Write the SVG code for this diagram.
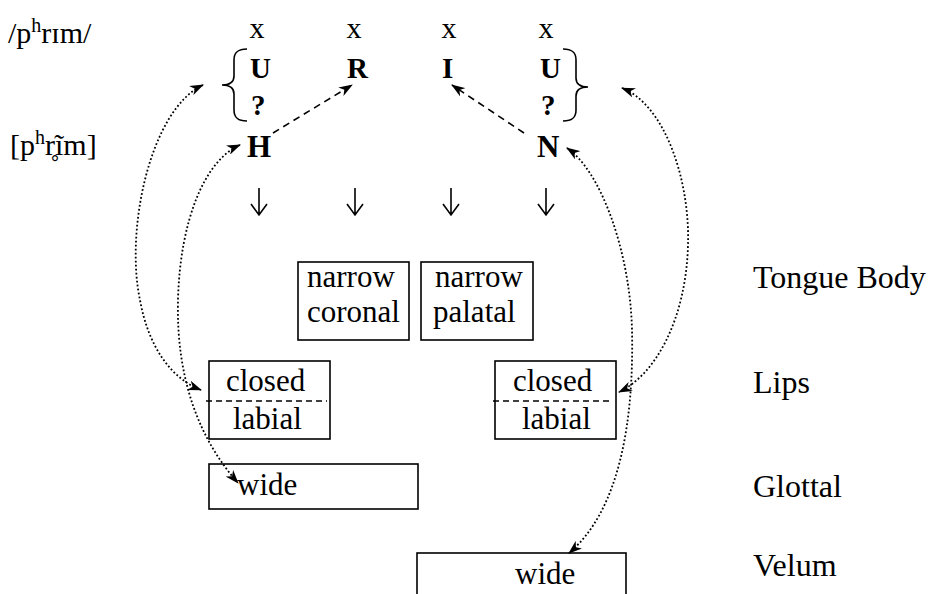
<svg xmlns="http://www.w3.org/2000/svg" width="928" height="594" viewBox="0 0 928 594">
  <style>
    text { font-family: "Liberation Serif", serif; fill: #000; }
    .t { font-size: 31px; }
    .lab { font-size: 32px; }
    .sk { font-size: 30px; }
    .b { font-size: 29px; font-weight: bold; }
    .bb { font-size: 31px; font-weight: bold; }
    .box { fill: none; stroke: #000; stroke-width: 1.6; }
    .split { stroke: #000; stroke-width: 1.6; stroke-dasharray: 6 4; fill: none; }
    .brace { fill: none; stroke: #000; stroke-width: 1.6; }
    .dash { fill: none; stroke: #000; stroke-width: 1.6; stroke-dasharray: 7 5; marker-end: url(#head); }
    .dot { fill: none; stroke: #000; stroke-width: 1.8; stroke-dasharray: 1.8 2.2; marker-start: url(#head); marker-end: url(#head); }
    .down { fill: none; stroke: #000; stroke-width: 1.6; }
  </style>
  <defs>
    <marker id="head" viewBox="0 0 14 10" refX="13" refY="5" markerWidth="14" markerHeight="10" markerUnits="userSpaceOnUse" orient="auto-start-reverse">
      <path d="M0,0 L14,5 L0,10 L4,5 Z" fill="#000"/>
    </marker>
  </defs>

  <!-- transcriptions -->
  <g id="phonemic">
    <text class="sk" x="8" y="43">/p<tspan font-size="20" dy="-11">h</tspan><tspan dy="11">rɪm/</tspan></text>
  </g>
  <g id="phonetic">
    <text class="sk" x="10" y="155">[p<tspan font-size="20" dy="-11">h</tspan><tspan dy="11">r̥ĩm]</tspan></text>
  </g>

  <!-- skeletal slots -->
  <g id="slots">
    <text class="sk" x="257" y="38" text-anchor="middle">x</text>
    <text class="sk" x="354" y="38" text-anchor="middle">x</text>
    <text class="sk" x="449" y="38" text-anchor="middle">x</text>
    <text class="sk" x="546" y="38" text-anchor="middle">x</text>
  </g>

  <!-- elements -->
  <g id="elem-U1"><text class="b" x="250" y="78">U</text><text class="b" x="251" y="115">?</text></g>
  <g id="elem-R"><text class="b" x="347" y="78">R</text></g>
  <g id="elem-I"><text class="b" x="442" y="78">I</text></g>
  <g id="elem-U2"><text class="b" x="540" y="78">U</text><text class="b" x="541" y="115">?</text></g>
  <g id="elem-H"><text class="bb" x="247" y="157">H</text></g>
  <g id="elem-N"><text class="bb" x="537" y="157">N</text></g>

  <g id="braces">
    <path class="brace" d="M247,49 C237,49 234,53 234,60 L234,76 C234,82 230,85 222,85 C230,85 234,88 234,94 L234,110 C234,117 237,121 247,121"/>
    <path class="brace" d="M563,49 C573,49 576,53 576,60 L576,78 C576,84 580,87 588,87 C580,87 576,90 576,96 L576,110 C576,117 573,121 563,121"/>
  </g>

  <!-- articulator boxes -->
  <g id="tb-coronal">
    <rect class="box" x="298" y="262" width="111" height="78"/>
    <text class="t" x="307" y="287">narrow</text>
    <text class="t" x="307" y="322">coronal</text>
  </g>
  <g id="tb-palatal">
    <rect class="box" x="421" y="262" width="112" height="78"/>
    <text class="t" x="435" y="287">narrow</text>
    <text class="t" x="433" y="322">palatal</text>
  </g>
  <g id="lips-left">
    <rect class="box" x="209" y="361" width="121" height="78"/>
    <line class="split" x1="206" y1="401" x2="327" y2="401"/>
    <text class="t" x="226" y="391">closed</text>
    <text class="t" x="233" y="429">labial</text>
  </g>
  <g id="lips-right">
    <rect class="box" x="495" y="361" width="121" height="78"/>
    <line class="split" x1="493" y1="401" x2="613" y2="401"/>
    <text class="t" x="513" y="391">closed</text>
    <text class="t" x="522" y="429">labial</text>
  </g>
  <g id="glottal">
    <rect class="box" x="209" y="464" width="209" height="45"/>
    <text class="t" x="237" y="495">wide</text>
  </g>
  <g id="velum">
    <rect class="box" x="417" y="553" width="209" height="60"/>
    <text class="t" x="515" y="584">wide</text>
  </g>

  <!-- tier labels -->
  <g id="tier-labels">
    <text class="lab" x="753" y="288">Tongue Body</text>
    <text class="lab" x="753" y="393">Lips</text>
    <text class="lab" x="753" y="497">Glottal</text>
    <text class="lab" x="753" y="576">Velum</text>
  </g>

  <!-- connectors -->
  <g id="connectors">
    <path class="down" d="M259,188 V215 M251,204 L259,215 L267,204"/>
    <path class="down" d="M355,188 V215 M347,204 L355,215 L363,204"/>
    <path class="down" d="M451,188 V215 M443,204 L451,215 L459,204"/>
    <path class="down" d="M546,188 V215 M538,204 L546,215 L554,204"/>

    <path class="dash" d="M273,133 L352,85"/>
    <path class="dash" d="M524,133 L452,85"/>

    <path class="dot" d="M203,85 C150,110 125,230 140,300 C148,345 170,378 201,390"/>
    <path class="dot" d="M240,145 C205,160 180,220 178,300 C176,380 200,440 238,483"/>
    <path class="dot" d="M622,88 C665,105 690,180 688,245 C686,320 655,375 619,392"/>
    <path class="dot" d="M567,148 C600,170 630,250 632,330 C634,420 620,510 569,553"/>
  </g>
</svg>
